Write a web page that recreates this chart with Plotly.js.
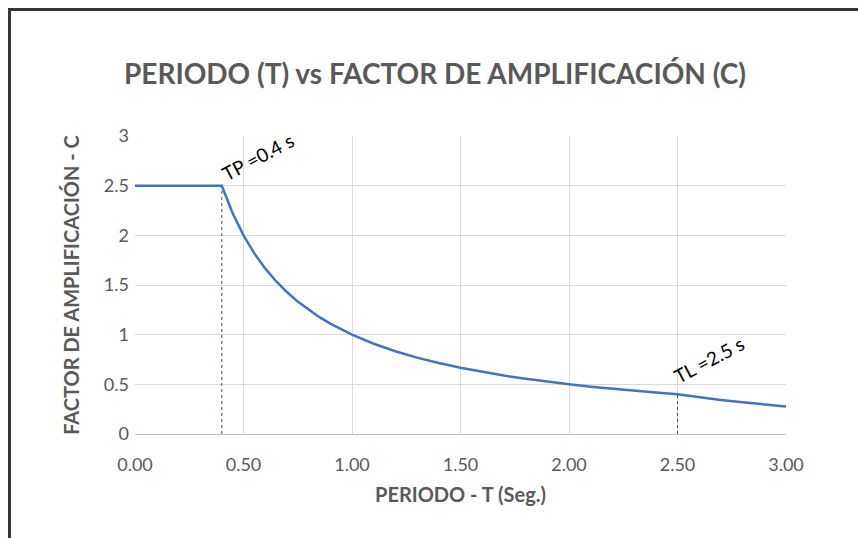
<!DOCTYPE html>
<html>
<head>
<meta charset="utf-8">
<script src="https://cdn.plot.ly/plotly-3.0.1.min.js"></script>
<style>
  html, body { margin: 0; padding: 0; background: #ffffff; }
  #wrap { position: relative; width: 858px; height: 538px; overflow: hidden; }
  #chart { position: absolute; left: 0; top: 0; width: 858px; height: 538px; }
  #frame { position: absolute; left: 8px; top: 8px; width: 870px; height: 560px;
           border-left: 3px solid #34343f; border-top: 3px solid #34343f; pointer-events: none; }
</style>
</head>
<body>
<div id="wrap">
  <div id="chart"></div>
  <div id="frame"></div>
</div>
<script>
// Period T (s)
const periodT = [0, 0.1, 0.2, 0.3, 0.4, 0.45, 0.5, 0.55, 0.6, 0.65, 0.7, 0.75, 0.8, 0.85, 0.9, 0.95, 1.0,
                 1.1, 1.2, 1.3, 1.4, 1.5, 1.6, 1.7, 1.8, 1.9, 2.0, 2.1, 2.2, 2.3, 2.4, 2.5,
                 2.6, 2.7, 2.8, 2.9, 3.0];
// Amplification factor C
const factorC = [2.5, 2.5, 2.5, 2.5, 2.5, 2.222, 2.0, 1.818, 1.667, 1.538, 1.429, 1.333, 1.25, 1.176, 1.111, 1.053, 1.0,
                 0.909, 0.833, 0.769, 0.714, 0.667, 0.625, 0.588, 0.556, 0.526, 0.5, 0.476, 0.455, 0.435, 0.417, 0.4,
                 0.37, 0.343, 0.319, 0.297, 0.278];
// Reference period markers
const tpX = [0.4, 0.4], tpY = [0, 2.5];
const tlX = [2.5, 2.5], tlY = [0, 0.4];
const tpLabel = "TP =0.4 s";
const tlLabel = "TL =2.5 s";
const xTickVals = [0, 0.5, 1.0, 1.5, 2.0, 2.5, 3.0];
const xTickText = ["0.00", "0.50", "1.00", "1.50", "2.00", "2.50", "3.00"];
const yTickVals = [0, 0.5, 1, 1.5, 2, 2.5, 3];
const yTickText = ["0", "0.5", "1", "1.5", "2", "2.5", "3"];

const FONT = "Lato, 'Open Sans', sans-serif";
const GREY = "#595959";

const traces = [
  { x: tpX, y: tpY, mode: "lines", line: { color: "#44546a", width: 1, dash: "dot" }, hoverinfo: "skip", showlegend: false },
  { x: tlX, y: tlY, mode: "lines", line: { color: "#44546a", width: 1, dash: "dot" }, hoverinfo: "skip", showlegend: false },
  { x: periodT, y: factorC, mode: "lines", line: { color: "#4472c4", width: 2.5 }, showlegend: false }
];

const layout = {
  width: 858, height: 538,
  margin: { l: 135, r: 72, t: 136, b: 104 },
  paper_bgcolor: "#ffffff", plot_bgcolor: "#ffffff",
  font: { family: FONT, color: GREY, size: 18 },
  title: { text: "<b>PERIODO (T) vs FACTOR DE AMPLIFICACIÓN (C)</b>", font: { family: FONT, size: 28, color: GREY },
           x: 0.507, xanchor: "center", y: 0.862, yanchor: "middle" },
  xaxis: {
    range: [0, 3], tickvals: xTickVals, ticktext: xTickText,
    showgrid: true, gridcolor: "#d9d9d9", gridwidth: 1,
    zeroline: false, showline: true, linecolor: "#bfbfbf", linewidth: 1,
    ticks: "", ticklabelstandoff: 14, tickfont: { size: 18, color: GREY },
    title: { text: "<b>PERIODO - T (Seg.)</b>", font: { size: 20, color: GREY }, standoff: 14 },
    fixedrange: true
  },
  yaxis: {
    range: [0, 3], tickvals: yTickVals, ticktext: yTickText,
    showgrid: true, gridcolor: "#d9d9d9", gridwidth: 1,
    zeroline: false, showline: false,
    ticks: "", ticklabelstandoff: 5, tickfont: { size: 18, color: GREY },
    title: { text: "<b>FACTOR DE AMPLIFICACIÓN - C</b>", font: { size: 20, color: GREY }, standoff: 18 },
    fixedrange: true
  },
  annotations: [
    { x: 0.4, y: 2.5, xref: "x", yref: "y", text: tpLabel, showarrow: false, textangle: -28,
      xanchor: "left", yanchor: "bottom", xshift: -6, yshift: -2, font: { family: FONT, size: 19, color: "#000000" } },
    { x: 2.5, y: 0.4, xref: "x", yref: "y", text: tlLabel, showarrow: false, textangle: -28,
      xanchor: "left", yanchor: "bottom", xshift: -10, yshift: 4, font: { family: FONT, size: 19, color: "#000000" } }
  ]
};

Plotly.newPlot("chart", traces, layout, { displayModeBar: false, staticPlot: true });
</script>
</body>
</html>
